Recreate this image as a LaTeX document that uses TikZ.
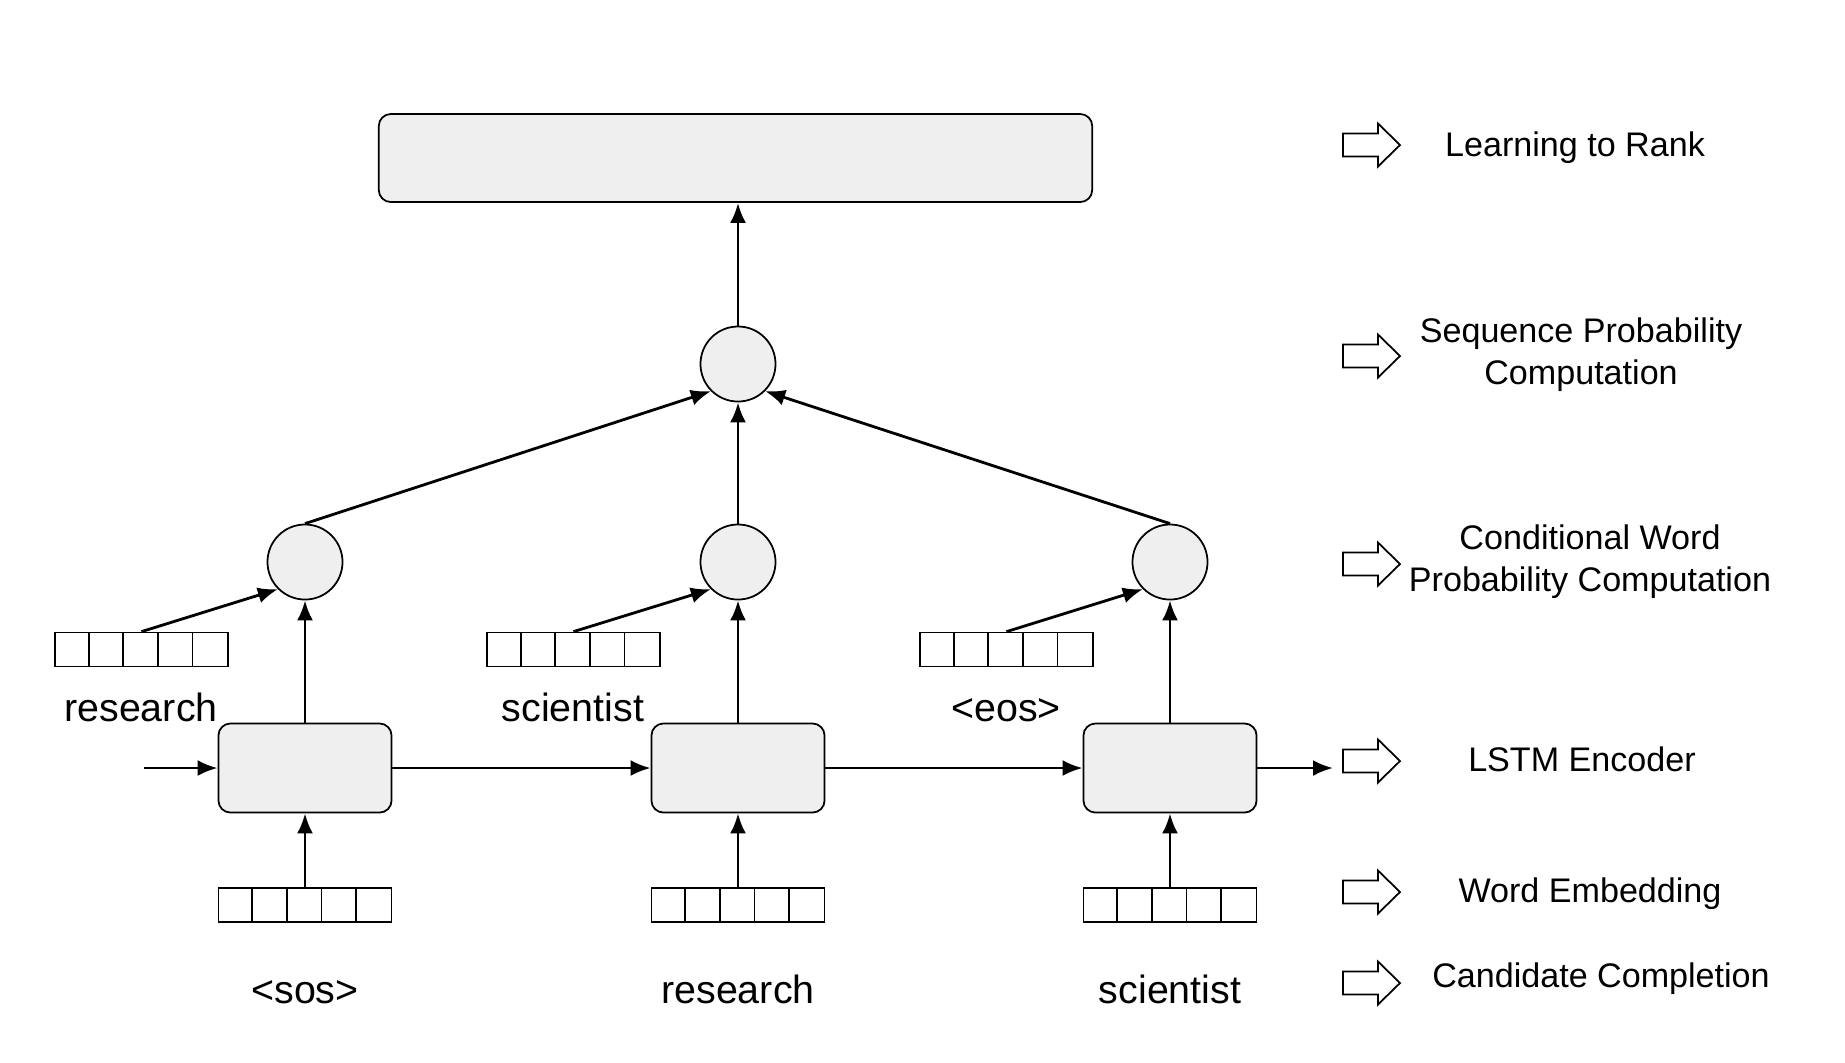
\documentclass[tikz,border=0pt]{standalone}
\usepackage{fontspec}
\setmainfont{Liberation Sans}
\usetikzlibrary{arrows.meta}
\definecolor{cellgray}{RGB}{239,239,239}
\newcommand{\cw}{0.346}
\newcommand{\embed}[3]{
  \node[embbox] (#1) at (#2,#3) {};
  \foreach \i in {1,...,4}
    \draw[cellline] ([xshift=\i*\cw cm]#1.south west) -- ([xshift=\i*\cw cm]#1.north west);
}
\newcommand{\hollowarrow}[3]{
  \coordinate (#1) at (#2,#3);
  \draw[cellline] ([shift={(-28,-11.5)}]#1) -- ++(35,0) -- ++(0,-10) -- ++(22,21.5)
    -- ++(-22,21.5) -- ++(0,-10) -- ++(-35,0) -- cycle;
}

\begin{document}
\begin{tikzpicture}[x=0.01cm,y=-0.01cm,
    box/.style={draw,rounded corners=1.2mm,fill=cellgray,line width=0.5pt,minimum width=1.73cm,minimum height=0.89cm},
    unit/.style={draw,circle,fill=cellgray,line width=0.5pt,minimum size=0.75cm,inner sep=0pt},
    embbox/.style={draw,line width=0.5pt,minimum width=1.73cm,minimum height=0.34cm,inner sep=0pt},
    cellline/.style={line width=0.5pt},
    word/.style={font=\fontsize{11.2}{13}\selectfont,anchor=base,inner sep=0pt},
    layer/.style={font=\fontsize{9.7}{12}\selectfont,align=center,inner sep=0pt},
    link/.style={line width=0.8pt,-{Latex[length=2mm,width=1.6mm]}}]
    \useasboundingbox (0,0) rectangle (1845,1062);

    % ranking
    \node[box,minimum width=7.13cm,minimum height=0.88cm] (rank) at (735.5,158) {};
    \node[unit] (seq) at (738,364) {};
    % word probabilities
    \node[unit] (p1) at (305,562) {};
    \node[unit] (p2) at (738,562) {};
    \node[unit] (p3) at (1170,562) {};
    % lstm cells
    \node[box] (l1) at (305,768) {};
    \node[box] (l2) at (738,768) {};
    \node[box] (l3) at (1170,768) {};
    % next words
    \embed{n1}{141.5}{649.5}
    \embed{n2}{573.5}{649.5}
    \embed{n3}{1006.5}{649.5}
    \node[word] (nw1) at (141,721) {research};
    \node[word] (nw2) at (573,721) {scientist};
    \node[word] (nw3) at (1006,721) {<eos>};
    % input words
    \embed{e1}{305}{905}
    \embed{e2}{738}{905}
    \embed{e3}{1170}{905}
    \node[word] (w1) at (305,1003) {<sos>};
    \node[word] (w2) at (738,1003) {research};
    \node[word] (w3) at (1170,1003) {scientist};

    \coordinate (h0) at (143.5,768);
    \coordinate (h4) at (1333,768);
    \draw[link] (h0) -- (l1.west);
    \draw[link] (l1.east) -- (l2.west);
    \draw[link] (l2.east) -- (l3.west);
    \draw[link] (l3.east) -- (h4);

    \draw[link] (e1.north) -- (l1.south);
    \draw[link] (e2.north) -- (l2.south);
    \draw[link] (e3.north) -- (l3.south);
    \draw[link] (l1.north) -- (p1.south);
    \draw[link] (l2.north) -- (p2.south);
    \draw[link] (l3.north) -- (p3.south);
    \draw[link] (n1.north) -- (p1.225);
    \draw[link] (n2.north) -- (p2.225);
    \draw[link] (n3.north) -- (p3.225);
    \draw[link] (p1.north) -- (seq.225);
    \draw[link] (p2.north) -- (seq.south);
    \draw[link] (p3.north) -- (seq.-45);
    \draw[link] (seq.north) -- (seq.north |- rank.south);

    % layer names
    \hollowarrow{a1}{1371}{145}
    \hollowarrow{a2}{1371}{356}
    \hollowarrow{a3}{1371}{564}
    \hollowarrow{a4}{1371}{761}
    \hollowarrow{a5}{1371}{892}
    \hollowarrow{a6}{1371}{983}
    \node[layer] (t1) at (1575,148) {Learning to Rank};
    \node[layer] (t2) at (1581,355) {Sequence Probability\\Computation};
    \node[layer] (t3) at (1590,562) {Conditional Word\\Probability Computation};
    \node[layer] (t4) at (1582,759) {LSTM Encoder};
    \node[layer] (t5) at (1590,894) {Word Embedding};
    \node[layer] (t6) at (1601,979) {Candidate Completion};
\end{tikzpicture}
\end{document}
